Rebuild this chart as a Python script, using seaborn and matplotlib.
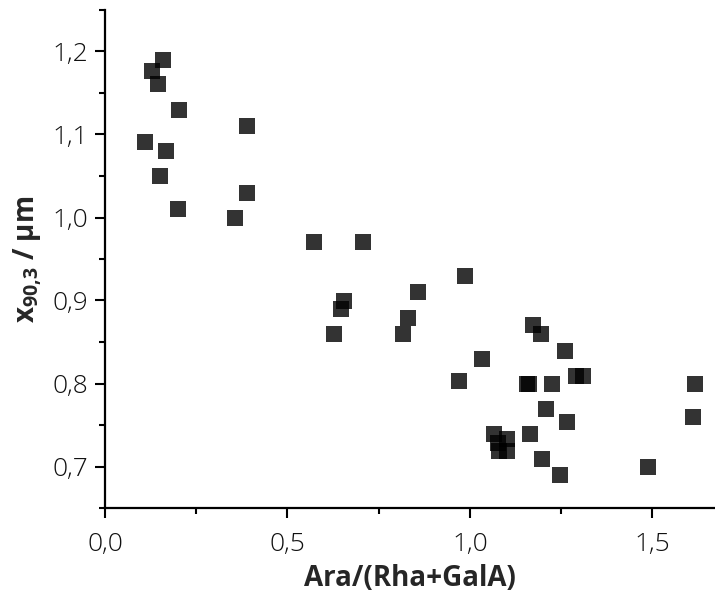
import matplotlib
matplotlib.use("Agg")
import matplotlib.pyplot as plt
import seaborn as sns
import pandas as pd
from matplotlib.ticker import MultipleLocator, FuncFormatter

ratio = [0.160, 0.130, 0.146, 0.204, 0.390, 0.110, 0.168, 0.152, 0.390, 0.201,
         0.356, 0.574, 0.708, 0.988, 0.857, 0.656, 0.648, 0.629, 0.831, 0.818,
         1.174, 1.196, 1.032, 0.969, 1.157, 1.163, 1.261, 1.226, 1.292, 1.309,
         1.618, 1.613, 1.210, 1.267, 1.166, 1.065, 1.101, 1.076, 1.081, 1.103,
         1.199, 1.489, 1.248]
x903 = [1.190, 1.177, 1.161, 1.130, 1.110, 1.091, 1.080, 1.050, 1.030, 1.010,
        1.000, 0.970, 0.970, 0.930, 0.910, 0.900, 0.890, 0.860, 0.879, 0.860,
        0.870, 0.860, 0.830, 0.803, 0.800, 0.800, 0.839, 0.800, 0.809, 0.809,
        0.800, 0.760, 0.769, 0.754, 0.739, 0.739, 0.733, 0.728, 0.719, 0.719,
        0.709, 0.699, 0.690]

df = pd.DataFrame({"ratio": ratio, "x903": x903})

sns.set_theme(style="ticks")
plt.rcParams["font.family"] = ["Open Sans", "DejaVu Sans"]
plt.rcParams["mathtext.default"] = "regular"

fig = plt.figure(figsize=(7.15, 5.92), dpi=100)
ax = fig.add_axes([105 / 715, 1 - 508 / 592, 1 - 105 / 715, (508 - 10) / 592])

sns.scatterplot(data=df, x="ratio", y="x903", ax=ax, marker="s", s=118,
                color="black", alpha=0.8, linewidth=0, legend=False)

ax.set_xlim(0, 1.672)
ax.set_ylim(0.65, 1.25)
ax.xaxis.set_major_locator(MultipleLocator(0.5))
ax.xaxis.set_minor_locator(MultipleLocator(0.25))
ax.yaxis.set_major_locator(MultipleLocator(0.1))
ax.yaxis.set_minor_locator(MultipleLocator(0.05))
fmt = FuncFormatter(lambda v, p: f"{v:.1f}".replace(".", ","))
ax.xaxis.set_major_formatter(fmt)
ax.yaxis.set_major_formatter(fmt)

for s in ["top", "right"]:
    ax.spines[s].set_visible(False)
for s in ["left", "bottom"]:
    ax.spines[s].set_linewidth(1.6)
    ax.spines[s].set_color("black")

ax.tick_params(which="major", length=7, width=1.5, labelsize=19, color="black",
               labelcolor="#111111", pad=5)
ax.tick_params(axis="x", which="major", pad=10.5)
ax.tick_params(which="minor", length=4, width=1.5, color="black")
for lbl in ax.get_xticklabels() + ax.get_yticklabels():
    lbl.set_fontweight("light")

ax.set_xlabel("Ara/(Rha+GalA)", fontsize=20, fontweight="bold", labelpad=5)
ax.set_ylabel("x$_{90{,}3}$ / µm", fontsize=20, fontweight="bold", labelpad=6)

fig.savefig("out.png", dpi=100)
